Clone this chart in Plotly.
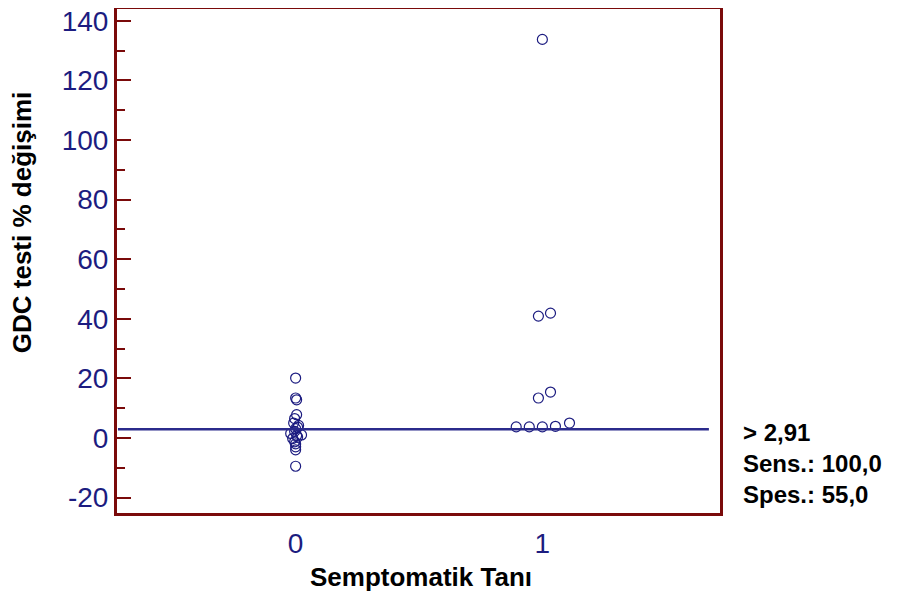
import plotly.graph_objects as go

# Data
group0_values = [20.1, 13.4, 12.8, 7.8, 6.5, 5.0, 4.2, 3.6, 3.1,
                 2.2, 1.5, 1.0, 0.8, 0.3, -0.2, -1.3, -2.0, -3.0, -4.0, -9.5]
group0_jitter = [0.0, 0.0, 0.004, 0.004, -0.004, -0.008, 0.012, 0.008, 0.0,
                 -0.004, -0.02, 0.024, 0.004, 0.008, -0.012, -0.004, 0.0, 0.0, 0.0, 0.0]
group1_values = [133.8, 40.9, 41.9, 13.4, 15.4, 3.7, 3.7, 3.7, 3.9, 5.0]
group1_jitter = [0.0, -0.016, 0.033, -0.016, 0.033, -0.106, -0.053, 0.0, 0.053, 0.11]
cutoff = 2.91
categories = [0, 1]
tick_labels = ["0", "1"]
y_ticks = [-20, 0, 20, 40, 60, 80, 100, 120, 140]
y_tick_labels = ["-20", "0", "20", "40", "60", "80", "100", "120", "140"]
annotation_lines = ["> 2,91", "Sens.: 100,0", "Spes.: 55,0"]

navy = "#1c1c80"
spine = "#7a0a0a"
font = "Liberation Sans, Arial, sans-serif"

fig = go.Figure()
fig.add_trace(go.Scatter(
    x=[categories[0] + j for j in group0_jitter], y=group0_values,
    mode="markers",
    marker=dict(symbol="circle-open", size=10, color=navy, line=dict(width=1.2, color=navy)),
    showlegend=False, hoverinfo="skip"))
fig.add_trace(go.Scatter(
    x=[categories[1] + j for j in group1_jitter], y=group1_values,
    mode="markers",
    marker=dict(symbol="circle-open", size=10, color=navy, line=dict(width=1.2, color=navy)),
    showlegend=False, hoverinfo="skip"))
fig.add_trace(go.Scatter(
    x=[-0.72, 1.675], y=[cutoff, cutoff], mode="lines",
    line=dict(color="#2b2b8c", width=2.5), showlegend=False, hoverinfo="skip"))

fig.update_layout(
    width=891, height=586,
    margin=dict(l=109, r=179, t=1, b=81, autoexpand=False),
    paper_bgcolor="white", plot_bgcolor="white",
    font=dict(family=font),
    xaxis=dict(range=[-0.724, 1.72], tickvals=categories, ticktext=tick_labels,
               automargin=False, ticklabeloverflow="allow",
               showgrid=False, zeroline=False, showline=True, linecolor=spine,
               linewidth=3, mirror=True, ticks="outside", ticklen=3,
               tickcolor="rgba(0,0,0,0)",
               tickfont=dict(size=28, color=navy, family=font)),
    yaxis=dict(range=[-25.2, 144.0], tickvals=y_ticks, ticktext=y_tick_labels,
               automargin=False, ticklabeloverflow="allow",
               showgrid=False, zeroline=False, showline=True, linecolor=spine,
               linewidth=3, mirror=True, ticks="inside", ticklen=14, tickwidth=2,
               tickcolor=spine,
               minor=dict(ticks="inside", ticklen=8, tickwidth=2, tickcolor=spine,
                          tickvals=[-10, 10, 30, 50, 70, 90, 110, 130]),
               tickfont=dict(size=28, color=navy, family=font)),
)

fig.add_annotation(text="<b>Semptomatik Tanı</b>", xref="paper", yref="paper",
                   x=0.504, y=-0.127, yanchor="middle", xanchor="center",
                   showarrow=False, font=dict(size=26, color="black", family=font))
fig.add_annotation(text="<b>GDC testi % değişimi</b>", xref="paper", yref="paper",
                   x=-0.1575, y=0.577, textangle=-90, xanchor="center", yanchor="middle",
                   showarrow=False, font=dict(size=26, color="black", family=font))
for i, line in enumerate(annotation_lines):
    fig.add_annotation(text="<b>" + line + "</b>", xref="paper", yref="paper",
                       x=1.035, y=(81 - 31 * i) / 504, xanchor="left",
                       yanchor="middle", showarrow=False,
                       font=dict(size=24, color="black", family=font))

fig.write_html("out.html")
